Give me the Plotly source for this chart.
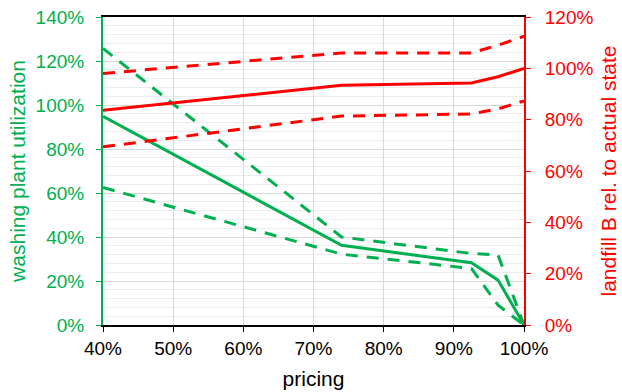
import plotly.graph_objects as go

pricing = [0.40, 0.74, 0.925, 0.963, 1.00]

wash_mid = [0.949, 0.362, 0.283, 0.204, 0.0]
wash_high = [1.257, 0.400, 0.325, 0.318, 0.0]
wash_low = [0.625, 0.322, 0.257, 0.090, 0.0]

landfill_mid = [0.837, 0.934, 0.943, 0.967, 1.000]
landfill_high = [0.980, 1.060, 1.060, 1.090, 1.125]
landfill_low = [0.694, 0.814, 0.822, 0.842, 0.873]

GREEN = "#00b050"
RED = "#ff0000"
FONT = "Liberation Sans, Arial, sans-serif"
DASH = "12px,9px"

fig = go.Figure()

def add(y, color, dash, axis):
    fig.add_trace(go.Scatter(
        x=pricing, y=y, mode="lines", yaxis=axis,
        line=dict(color=color, width=3, dash=dash),
        showlegend=False, hoverinfo="skip"))

add(wash_high, GREEN, DASH, "y")
add(wash_low, GREEN, DASH, "y")
add(wash_mid, GREEN, "solid", "y")
add(landfill_high, RED, DASH, "y2")
add(landfill_low, RED, DASH, "y2")
add(landfill_mid, RED, "solid", "y2")

fig.update_layout(
    width=622, height=392,
    margin=dict(l=103, r=98, t=17, b=67, autoexpand=False),
    paper_bgcolor="white", plot_bgcolor="white",
    font=dict(family=FONT, size=19, color="black"),
    xaxis=dict(
        range=[0.4, 1.0], dtick=0.1, tick0=0.4, tickformat=".0%",
        showgrid=True, gridcolor="#d9d9d9", gridwidth=1,
        showline=True, linecolor="black", linewidth=2, mirror=True,
        ticks="outside", ticklen=5, tickcolor="black", tickwidth=1,
        ticklabeloverflow="allow",
        zeroline=False, automargin=False,
        title=dict(text="pricing", font=dict(size=21, color="black"), standoff=14),
        tickfont=dict(size=19, color="black"),
    ),
    yaxis=dict(
        range=[0, 1.4], dtick=0.2, tickformat=".0%",
        showgrid=True, gridcolor="#d9d9d9", gridwidth=1,
        minor=dict(dtick=0.04, showgrid=True, gridcolor="#ececec", gridwidth=1),
        showline=True, linecolor=GREEN, linewidth=2,
        ticks="outside", ticklen=5, tickcolor=GREEN, tickwidth=1,
        ticklabelstandoff=8, ticklabeloverflow="allow",
        zeroline=False, automargin=False,
        tickfont=dict(size=19, color=GREEN),
        title=dict(text="washing plant utilization", font=dict(size=21, color=GREEN), standoff=4),
    ),
    yaxis2=dict(
        range=[0, 1.2], dtick=0.2, tickformat=".0%",
        overlaying="y", side="right", anchor="x",
        showgrid=False,
        showline=True, linecolor=RED, linewidth=2,
        ticks="outside", ticklen=5, tickcolor=RED, tickwidth=1,
        ticklabelstandoff=10, ticklabeloverflow="allow",
        zeroline=False, automargin=False,
        tickfont=dict(size=19, color=RED),
        title=dict(text="landfill B rel. to actual state", font=dict(size=21, color=RED), standoff=9),
    ),
)

fig.write_html("out.html", config={"displayModeBar": False},
               post_script="document.body.style.margin='0px';")
